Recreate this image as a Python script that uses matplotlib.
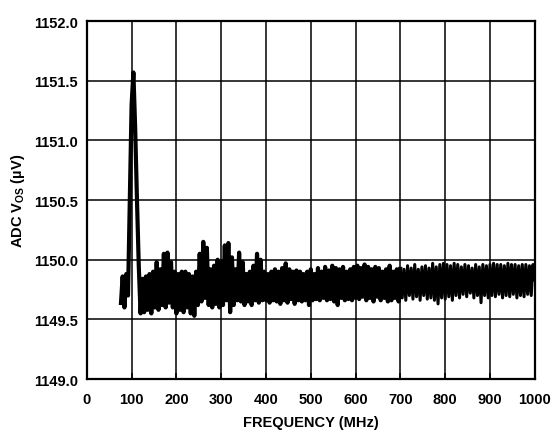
import numpy as np
import matplotlib

matplotlib.use("Agg")
import matplotlib.pyplot as plt

# ADC offset voltage vs input frequency.
# Sweep grid: 76 MHz to 1000 MHz in 4 MHz steps.
freq_mhz = np.arange(76, 1001, 4)

vos_76_96 = [1149.62, 1149.86, 1149.60, 1149.88, 1149.70, 1150.50]
vos_100_116 = [1151.30, 1151.57, 1151.10, 1150.50, 1149.95]
vos_120_196 = [
    1149.55, 1149.84, 1149.56, 1149.86, 1149.58, 1149.88, 1149.55, 1149.90, 1149.60, 1149.98,
    1149.58, 1149.92, 1149.62, 1150.05, 1149.60, 1150.06, 1149.64, 1149.98, 1149.60, 1149.90,
]
vos_200_296 = [
    1149.55, 1149.88, 1149.58, 1149.90, 1149.56, 1149.90, 1149.60, 1149.88, 1149.55, 1149.86,
    1149.53, 1149.90, 1149.62, 1150.05, 1149.65, 1150.15, 1149.68, 1150.10, 1149.62, 1149.92,
    1149.60, 1149.95, 1149.63, 1150.00, 1149.60,
]
vos_300_396 = [
    1149.98, 1149.62, 1150.12, 1149.66, 1150.14, 1149.56, 1150.02, 1149.62, 1149.92, 1149.66,
    1150.06, 1149.65, 1149.98, 1149.62, 1149.88, 1149.65, 1149.90, 1149.62, 1149.95, 1149.66,
    1150.05, 1149.64, 1150.00, 1149.66, 1149.90,
]
vos_400_496 = [
    1149.66, 1149.88, 1149.64, 1149.90, 1149.66, 1149.92, 1149.65, 1149.90, 1149.63, 1149.93,
    1149.66, 1149.97, 1149.64, 1149.92, 1149.67, 1149.90, 1149.63, 1149.91, 1149.66, 1149.90,
    1149.65, 1149.88, 1149.66, 1149.90, 1149.62,
]
vos_500_596 = [
    1149.92, 1149.66, 1149.88, 1149.67, 1149.93, 1149.66, 1149.90, 1149.68, 1149.94, 1149.66,
    1149.91, 1149.67, 1149.95, 1149.65, 1149.93, 1149.62, 1149.92, 1149.68, 1149.94, 1149.66,
    1149.90, 1149.67, 1149.92, 1149.66, 1149.94,
]
vos_600_696 = [
    1149.68, 1149.95, 1149.67, 1149.93, 1149.69, 1149.96, 1149.66, 1149.94, 1149.68, 1149.92,
    1149.65, 1149.94, 1149.69, 1149.93, 1149.66, 1149.90, 1149.68, 1149.92, 1149.65, 1149.95,
    1149.66, 1149.90, 1149.68, 1149.92, 1149.65,
]
vos_700_796 = [
    1149.94, 1149.68, 1149.92, 1149.66, 1149.95, 1149.70, 1149.93, 1149.67, 1149.96, 1149.69,
    1149.92, 1149.66, 1149.94, 1149.70, 1149.95, 1149.67, 1149.93, 1149.68, 1149.97, 1149.66,
    1149.94, 1149.63, 1149.96, 1149.68, 1149.97,
]
vos_800_896 = [
    1149.67, 1149.96, 1149.69, 1149.95, 1149.66, 1149.97, 1149.70, 1149.96, 1149.68, 1149.94,
    1149.71, 1149.96, 1149.69, 1149.95, 1149.72, 1149.93, 1149.68, 1149.96, 1149.70, 1149.94,
    1149.64, 1149.96, 1149.70, 1149.95, 1149.68,
]
vos_900_1000 = [
    1149.96, 1149.70, 1149.97, 1149.69, 1149.96, 1149.71, 1149.96, 1149.68, 1149.95, 1149.70,
    1149.97, 1149.69, 1149.96, 1149.71, 1149.96, 1149.68, 1149.95, 1149.70, 1149.96, 1149.69,
    1149.96, 1149.71, 1149.95, 1149.70, 1149.96, 1149.82,
]

vos_uv = np.concatenate([
    vos_76_96, vos_100_116, vos_120_196, vos_200_296, vos_300_396, vos_400_496,
    vos_500_596, vos_600_696, vos_700_796, vos_800_896, vos_900_1000,
])
assert len(vos_uv) == len(freq_mhz)

x_ticks = list(range(0, 1001, 100))
y_ticks = [1149.0, 1149.5, 1150.0, 1150.5, 1151.0, 1151.5, 1152.0]

plt.rcParams["font.family"] = ["Liberation Sans", "DejaVu Sans"]
plt.rcParams["font.weight"] = "bold"
plt.rcParams["mathtext.fontset"] = "custom"
plt.rcParams["mathtext.rm"] = "Liberation Sans"

fig = plt.figure(figsize=(5.6, 4.35), dpi=100)
ax = fig.add_axes([0.155, 0.1264, 0.80, 0.8226])

# the trace looks like a solid band below ~700 MHz and separate strokes above it
lo = freq_mhz <= 700
hi = freq_mhz >= 700
ax.plot(freq_mhz[lo], vos_uv[lo], color="black", linewidth=3.0,
        solid_joinstyle="round", solid_capstyle="butt")
ax.plot(freq_mhz[hi], vos_uv[hi], color="black", linewidth=2.2,
        solid_joinstyle="round", solid_capstyle="butt")

ax.set_xlim(0, 1000)
ax.set_ylim(1149.0, 1152.0)
ax.set_xticks(x_ticks)
ax.set_yticks(y_ticks)
ax.set_xticklabels([str(v) for v in x_ticks])
ax.set_yticklabels([f"{v:.1f}" for v in y_ticks])
ax.grid(True, color="black", linewidth=1.1)
ax.set_axisbelow(True)
for sp in ax.spines.values():
    sp.set_linewidth(1.6)
ax.tick_params(axis="x", direction="in", length=4, width=1.1, pad=9, labelsize=10.5)
ax.tick_params(axis="y", direction="in", length=0, pad=6.5, labelsize=10.5)

ax.set_xlabel("FREQUENCY (MHz)", fontsize=10.5, fontweight="bold", labelpad=7)
ax.set_ylabel(r"ADC V$_{\mathrm{OS}}$ (µV)", fontsize=10.5, fontweight="bold", labelpad=5)

fig.savefig("out.png", dpi=100)
